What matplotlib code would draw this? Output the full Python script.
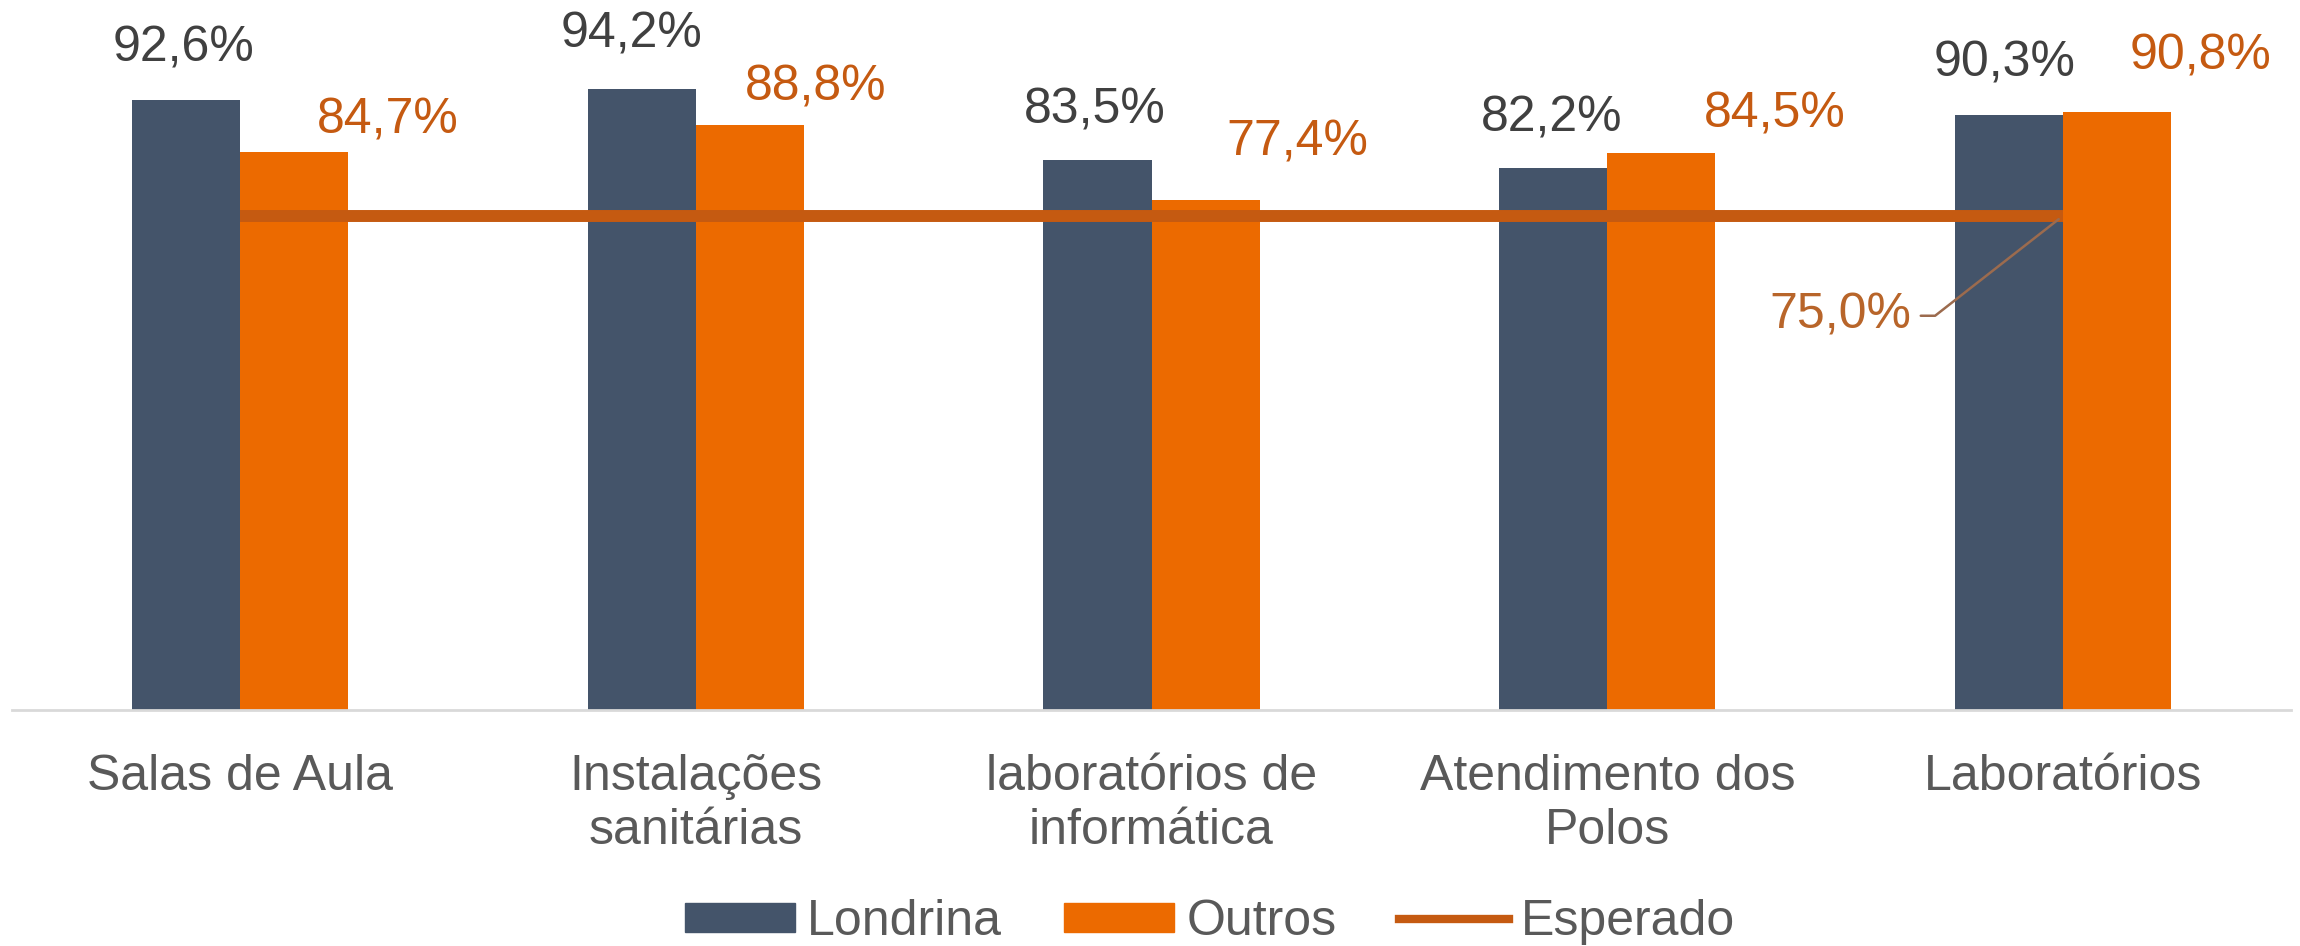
import matplotlib
matplotlib.use("Agg")
import matplotlib.pyplot as plt
import numpy as np
from matplotlib.lines import Line2D
from matplotlib.patches import Patch

plt.rcParams['font.family'] = ['Liberation Sans', 'DejaVu Sans']

categories = ["Salas de Aula", "Instalações\nsanitárias", "laboratórios de\ninformática",
              "Atendimento dos\nPolos", "Laboratórios"]
londrina = [92.6, 94.2, 83.5, 82.2, 90.3]
outros = [84.7, 88.8, 77.4, 84.5, 90.8]
esperado = [75.0, 75.0, 75.0, 75.0, 75.0]
londrina_labels = ["92,6%", "94,2%", "83,5%", "82,2%", "90,3%"]
outros_labels = ["84,7%", "88,8%", "77,4%", "84,5%", "90,8%"]
esperado_label = "75,0%"

# label offsets in pixels (styling)
lon_off = [(-2, 38), (-10, 42), (-3, 36), (-2, 37), (-5, 38)]
out_off = [(94, 18), (66, 24), (92, 44), (113, 26), (83, 42)]

C_LON = '#44546A'
C_OUT = '#EC6A00'
C_ESP = '#C55A11'
C_TXT = '#595959'

fig = plt.figure(figsize=(23, 9.46), dpi=100)
ax = fig.add_axes([12/2300, (946-710)/946, 2279/2300, 659/946])

x = np.arange(len(categories))
w = 0.237
ax.bar(x - w/2, londrina, w, color=C_LON, zorder=2)
ax.bar(x + w/2, outros, w, color=C_OUT, zorder=2)
ax.plot(x, esperado, color=C_ESP, lw=8.6, solid_capstyle='butt', zorder=3)

fs = 36
for i in range(len(categories)):
    ax.annotate(londrina_labels[i], xy=(x[i] - w/2, londrina[i]), xytext=lon_off[i],
                textcoords='offset pixels', ha='center', va='baseline',
                fontsize=fs, color='#404040')
    ax.annotate(outros_labels[i], xy=(x[i] + w/2, outros[i]), xytext=out_off[i],
                textcoords='offset pixels', ha='center', va='baseline',
                fontsize=fs, color=C_ESP)

ax.annotate(esperado_label, xy=(x[-1], esperado[-1]), xytext=(-223, -113),
            textcoords='offset pixels', ha='center', va='baseline',
            fontsize=fs, color='#B8652A',
            arrowprops=dict(arrowstyle='-', color='#9C6B4E', lw=1.8,
                            relpos=(1.0, 0.5), shrinkA=5, shrinkB=4,
                            connectionstyle='angle,angleA=0,angleB=38,rad=0'))

ax.set_xlim(-0.5, 4.5)
ax.set_ylim(0, 100)
ax.set_yticks([])
ax.set_xticks(x)
ax.set_xticklabels(categories, fontsize=fs, color=C_TXT, linespacing=1.2)
ax.tick_params(axis='x', length=0, pad=32)
for s in ['top', 'left', 'right']:
    ax.spines[s].set_visible(False)
ax.spines['bottom'].set_color('#D9D9D9')
ax.spines['bottom'].set_linewidth(2)

handles = [Patch(color=C_LON, label='Londrina'),
           Patch(color=C_OUT, label='Outros'),
           Line2D([0], [0], color=C_ESP, lw=6, label='Esperado')]
leg = fig.legend(handles=handles, loc='center', bbox_to_anchor=(1210/2300, 1 - 922/946),
                 ncol=3, frameon=False, fontsize=fs, handlelength=2.2, handleheight=0.5,
                 handletextpad=0.24, columnspacing=1.25, borderpad=0)
for t in leg.get_texts():
    t.set_color(C_TXT)

fig.savefig('out.png', dpi=100)
